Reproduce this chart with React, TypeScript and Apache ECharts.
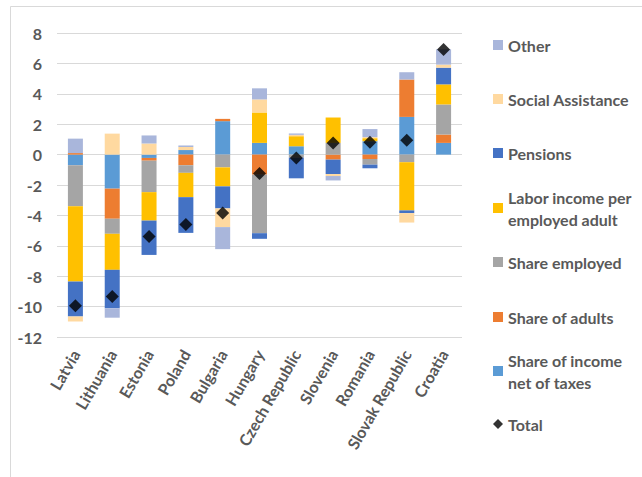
import React, { useEffect, useRef } from "react";
import * as echarts from "echarts";

const countries = ["Latvia", "Lithuania", "Estonia", "Poland", "Bulgaria", "Hungary", "Czech Republic", "Slovenia", "Romania", "Slovak Republic", "Croatia"];

// stacking order: first series sits next to zero
const shareIncomeNetTaxes = [-0.7, -2.24, -0.22, 0.3, 2.2, 0.77, 0.55, 0, 0.88, 2.48, 0.77];
const shareOfAdults = [0.1, -1.98, -0.18, -0.7, 0.15, -1.32, 0, -0.33, -0.29, 2.46, 0.55];
const shareEmployed = [-2.7, -0.99, -2.07, -0.5, -0.84, -3.85, -0.2, 0.77, -0.37, -0.5, 1.98];
const laborIncome = [-4.95, -2.37, -1.87, -1.6, -1.25, 2.0, 0.66, 1.67, 0.2, -3.17, 1.32];
const pensions = [-2.3, -2.53, -2.26, -2.35, -1.45, -0.37, -1.36, -0.95, -0.24, -0.18, 1.1];
const socialAssistance = [-0.33, 1.38, 0.73, 0.2, -1.23, 0.86, 0.09, -0.13, 0.07, -0.62, 0.2];
const other = [0.95, -0.62, 0.53, 0.1, -1.45, 0.73, 0.09, -0.29, 0.53, 0.48, 1.01];
const total = [-9.95, -9.34, -5.38, -4.6, -3.85, -1.25, -0.22, 0.77, 0.81, 0.95, 6.92];

const yTicks = { min: -12, max: 8, interval: 2 };

const barSeries = [
  { name: "Share of income net of taxes", data: shareIncomeNetTaxes, color: "#5B9BD5" },
  { name: "Share of adults", data: shareOfAdults, color: "#ED7D31" },
  { name: "Share employed", data: shareEmployed, color: "#A5A5A5" },
  { name: "Labor income per employed adult", data: laborIncome, color: "#FFC000" },
  { name: "Pensions", data: pensions, color: "#4472C4" },
  { name: "Social Assistance", data: socialAssistance, color: "#FFD9A0" },
  { name: "Other", data: other, color: "#A9B6DB" },
];

const legendLayout: { name: string; center: number; twoLine?: boolean }[] = [
  { name: "Other", center: 45 },
  { name: "Social Assistance", center: 99 },
  { name: "Pensions", center: 153 },
  { name: "Labor income per employed adult", center: 208, twoLine: true },
  { name: "Share employed", center: 262 },
  { name: "Share of adults", center: 317 },
  { name: "Share of income net of taxes", center: 371, twoLine: true },
  { name: "Total", center: 424 },
];

const FONT = "Lato";
const TEXT_COLOR = "#595959";
const FS = 16;

export default function App() {
  const ref = useRef<HTMLDivElement>(null);
  useEffect(() => {
    if (!ref.current) return;
    const chart = echarts.init(ref.current, undefined, { renderer: "svg" });
    const legends = legendLayout.map((l) => ({
      show: true,
      orient: "vertical",
      left: 493,
      top: l.twoLine ? l.center - 33 : l.center - 11,
      data: [l.name === "Total" ? { name: "Total", icon: "diamond" } : { name: l.name, icon: "rect" }],
      itemWidth: 10,
      itemHeight: 10,
      padding: 0,
      selectedMode: false,
      formatter: (n: string) =>
        n === "Labor income per employed adult"
          ? "Labor income per\nemployed adult"
          : n === "Share of income net of taxes"
          ? "Share of income\nnet of taxes"
          : n,
      textStyle: {
        fontFamily: FONT,
        fontSize: FS,
        fontWeight: "bold",
        color: TEXT_COLOR,
        lineHeight: 22,
        padding: l.twoLine ? [22, 0, 0, 0] : 0,
      },
    }));
    chart.setOption({
      animation: false,
      backgroundColor: "#ffffff",
      textStyle: { fontFamily: FONT },
      graphic: [
        {
          type: "rect",
          shape: { x: 10.5, y: 6.5, width: 700, height: 500 },
          style: { fill: "none", stroke: "#D9D9D9", lineWidth: 1 },
          silent: true,
        },
      ],
      legend: legends,
      grid: { left: 57, right: 180, top: 33, bottom: 140 },
      xAxis: {
        type: "category",
        data: countries,
        axisLine: { show: false },
        axisTick: { show: false },
        axisLabel: {
          rotate: 60,
          interval: 0,
          margin: 14,
          fontFamily: FONT,
          fontSize: FS,
          fontWeight: "bold",
          color: TEXT_COLOR,
        },
      },
      yAxis: {
        type: "value",
        min: yTicks.min,
        max: yTicks.max,
        interval: yTicks.interval,
        axisLine: { show: false },
        axisTick: { show: false },
        splitLine: { lineStyle: { color: "#D9D9D9", width: 1 } },
        axisLabel: {
          margin: 15,
          fontFamily: FONT,
          fontSize: FS,
          fontWeight: "bold",
          color: TEXT_COLOR,
        },
      },
      series: [
        ...barSeries.map((s) => ({
          name: s.name,
          type: "bar",
          stack: "all",
          barWidth: 15,
          data: s.data,
          itemStyle: { color: s.color },
        })),
        {
          name: "Total",
          type: "scatter",
          data: total,
          symbol: "diamond",
          symbolSize: 13,
          itemStyle: { color: "#000000" },
          z: 10,
        },
      ],
    });
    return () => chart.dispose();
  }, []);
  return (
    <div
      ref={ref}
      style={{ position: "absolute", left: 0, top: 0, width: 642, height: 477 }}
    />
  );
}
